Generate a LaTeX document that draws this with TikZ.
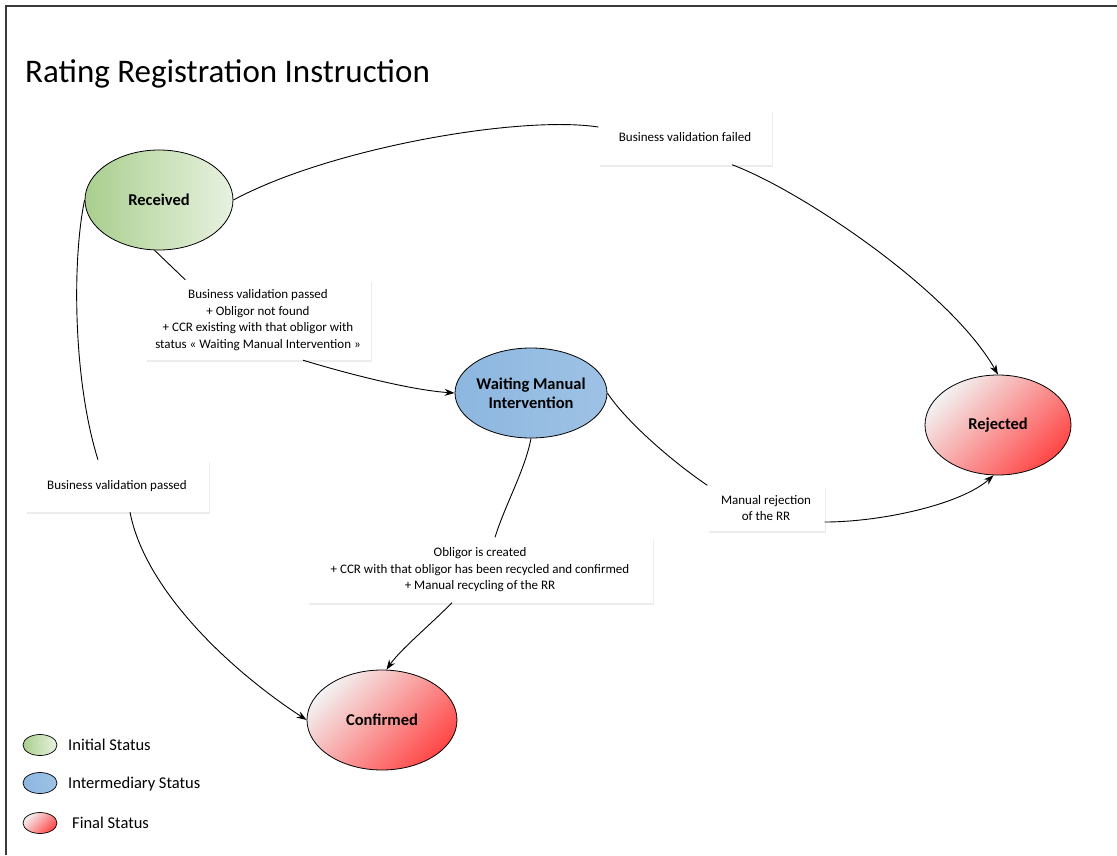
\documentclass[tikz,border=0pt]{standalone}
\usepackage{fontspec}
\setmainfont{Carlito}
\usetikzlibrary{shapes.geometric,arrows.meta,shadows}
\definecolor{greenA}{HTML}{A9CE8E}
\definecolor{greenB}{HTML}{E8F2E0}
\definecolor{blueA}{HTML}{8DB7E0}
\definecolor{blueB}{HTML}{C3DBF1}
\definecolor{redA}{HTML}{F3F1F1}
\definecolor{redB}{HTML}{FF4747}
\definecolor{framegray}{HTML}{3A3A3A}
\begin{document}
\begin{tikzpicture}[x=1pt,y=-1pt,
  status/.style={ellipse,draw,line width=.8pt,align=center,inner sep=-2pt,
    font=\fontsize{16.5}{19}\selectfont\bfseries,minimum width=148pt,minimum height=100pt},
  instat/.style={status,left color=greenA,right color=greenB},
  midstat/.style={status,left color=blueA,middle color=blueB,right color=blueA!85!white},
  endstat/.style={status,top color=redA,bottom color=redB,shading angle=45},
  cond/.style={fill=white,align=center,font=\fontsize{13}{16.5}\selectfont,
    drop shadow={shadow xshift=1pt,shadow yshift=-2pt,opacity=.25,fill=gray!60}},
  wire/.style={line width=.9pt},
  flow/.style={wire,-{Stealth[length=10pt,width=7pt]}}]
\useasboundingbox (0,0) rectangle (1117,855);
\draw[framegray,line width=1.4pt] (1117,6) -- (6,6) -- (6,855);
\node[anchor=base west,inner sep=0pt,font=\fontsize{33}{40}\selectfont] (title) at (25,82) {Rating Registration Instruction};
%
% estados
\node[instat] (recv) at (159,200) {Received};
\node[midstat,minimum width=152pt,minimum height=90pt] (wait) at (531,393) {Waiting Manual\\Intervention};
\node[endstat,minimum width=146pt] (rej) at (998,425) {Rejected};
\node[endstat,minimum width=150pt] (conf) at (382,720) {Confirmed};
%
% condiciones
\node[cond,minimum width=173pt,minimum height=55pt] (lfail) at (685,137) {Business validation failed};
\node[cond,minimum width=225pt,minimum height=80pt] (lwait) at (258,320) {Business validation passed\\+ Obligor not found\\+ CCR existing with that obligor with\\status « Waiting Manual Intervention »};
\node[cond,minimum width=183pt,minimum height=52pt] (lpass) at (117,486) {Business validation passed};
\node[cond,minimum width=345pt,minimum height=65pt] (lobl) at (480,570) {Obligor is created\\+ CCR with that obligor has been recycled and confirmed\\+ Manual recycling of the RR};
\node[cond,minimum width=117pt,minimum height=45pt] (lrej) at (766,508) {Manual rejection\\of the RR};
%
% transiciones
\draw[wire] (recv.east) .. controls (330,148) and (520,115) .. ([yshift=10pt]lfail.west);
\draw[flow] ([xshift=47pt]lfail.south) .. controls (800,190) and (950,290) .. (rej.north);
\draw[wire] (recv.-95) -- ([xshift=40pt]lwait.north west);
\draw[flow] ([xshift=45pt]lwait.south) .. controls (345,373) and (410,390) .. (wait.west);
\draw[wire] (recv.west) .. controls (72,260) and (73,380) .. ([xshift=-19pt]lpass.north);
\draw[flow] ([xshift=13pt]lpass.south) .. controls (145,590) and (230,670) .. (conf.west);
\draw[wire] (wait.south) .. controls (525,470) and (505,505) .. ([xshift=15pt]lobl.north);
\draw[flow] ([xshift=-28pt]lobl.south) .. controls (430,625) and (400,650) .. (conf.85);
\draw[wire] (wait.east) .. controls (625,420) and (670,460) .. (lrej.north west);
\draw[flow] ([yshift=-14pt]lrej.east) .. controls (880,522) and (960,505) .. (rej.-95);
%
% leyenda
\foreach \yy/\sty/\txt/\dx in {745/instat/Initial Status/68,783/midstat/Intermediary Status/68,823/endstat/Final Status/72}{
  \node[\sty,minimum width=34pt,minimum height=21pt,line width=.7pt] (key\yy) at (40,\yy) {};
  \node[anchor=base west,inner sep=0pt,font=\fontsize{16.5}{19}\selectfont] (keytxt\yy) at (\dx,\yy+5.5) {\txt};
}
\end{tikzpicture}
\end{document}
